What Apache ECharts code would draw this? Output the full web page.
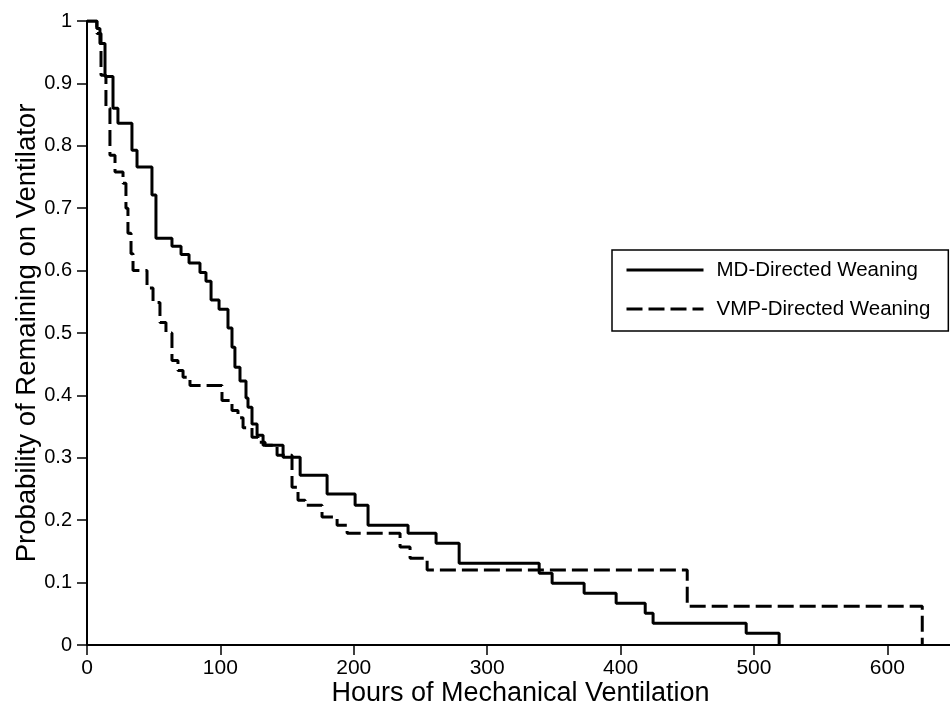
<!DOCTYPE html>
<html>
<head>
<meta charset="utf-8">
<script src="https://cdn.jsdelivr.net/npm/echarts@6/dist/echarts.min.js"></script>
<style>
  html, body { margin: 0; padding: 0; background: #fff; overflow: hidden; }
  #chart { width: 950px; height: 705px; }
</style>
</head>
<body>
<div id="chart"></div>
<script>
// Kaplan-Meier curves (hours, probability after each drop)
const mdHours = [0, 7.3, 9.7, 13.5, 19.5, 23.2, 33.7, 37.5, 48.7, 51.7, 63.7, 70.5, 76.5, 84.7, 89.2, 93.0, 99.0, 105.7, 108.7, 110.9, 114.7, 119.2, 120.7, 123.7, 127.5, 132.0, 147.0, 159.8, 180.0, 201.0, 210.7, 240.7, 261.7, 279.0, 339.0, 348.7, 372.7, 396.7, 418.5, 424.4, 494.2, 518.9];
const mdSurvival = [1, 0.988, 0.964, 0.911, 0.860, 0.836, 0.793, 0.766, 0.721, 0.652, 0.639, 0.626, 0.612, 0.597, 0.583, 0.553, 0.538, 0.508, 0.477, 0.445, 0.423, 0.396, 0.381, 0.354, 0.336, 0.320, 0.301, 0.272, 0.242, 0.224, 0.192, 0.179, 0.163, 0.131, 0.115, 0.099, 0.083, 0.067, 0.051, 0.035, 0.019, 0];

const vmpHours = [0, 7.5, 10.5, 14.2, 17.2, 21.0, 27.0, 29.2, 30.7, 33.0, 34.5, 45.0, 49.5, 54.7, 59.2, 63.7, 68.2, 72.0, 77.2, 101.2, 108.7, 113.2, 117.0, 123.7, 128.2, 133.5, 142.5, 153.7, 158.2, 163.5, 176.2, 187.5, 195.0, 234.7, 242.2, 255.0, 450.0, 626.2];
const vmpSurvival = [1, 0.98, 0.913, 0.86, 0.785, 0.758, 0.74, 0.70, 0.66, 0.627, 0.60, 0.572, 0.549, 0.517, 0.50, 0.456, 0.44, 0.429, 0.416, 0.392, 0.376, 0.364, 0.348, 0.333, 0.325, 0.32, 0.304, 0.253, 0.232, 0.224, 0.205, 0.192, 0.179, 0.157, 0.139, 0.12, 0.062, 0];

const xTickValues = [0, 100, 200, 300, 400, 500, 600];
const seriesNames = ['MD-Directed Weaning', 'VMP-Directed Weaning'];
const xAxisTitle = 'Hours of Mechanical Ventilation';
const yAxisTitle = 'Probability of Remaining on Ventilator';

const FONT = 'Liberation Sans, Arial, Helvetica, sans-serif';

const pair = (xs, ys) => xs.map((x, i) => [x, ys[i]]);

const chart = echarts.init(document.getElementById('chart'), null, { renderer: 'canvas' });
chart.setOption({
  animation: false,
  backgroundColor: '#ffffff',
  textStyle: { fontFamily: FONT, color: '#000' },
  grid: { left: 87, right: -4, top: 21, bottom: 60, containLabel: false, outerBoundsMode: 'none' },
  legend: {
    data: seriesNames,
    orient: 'vertical',
    left: 612,
    top: 250,
    padding: [9, 18, 11, 13],
    itemGap: 17,
    itemWidth: 77,
    itemHeight: 22,
    borderColor: '#000',
    borderWidth: 1.5,
    borderRadius: 0,
    backgroundColor: '#fff',
    itemStyle: { opacity: 0 },
    lineStyle: { width: 3 },
    textStyle: { fontFamily: FONT, fontSize: 20.5, lineHeight: 22, color: '#000', padding: [0, 0, 0, 8] }
  },
  xAxis: {
    type: 'value',
    min: 0,
    max: 650,
    interval: 100,
    name: xAxisTitle,
    nameLocation: 'middle',
    nameGap: 35,
    nameMoveOverlap: false,
    nameTextStyle: { fontFamily: FONT, fontSize: 27, color: '#000' },
    axisLine: { show: true, onZero: false, lineStyle: { color: '#000', width: 2 } },
    axisTick: { show: true, inside: false, length: 10, customValues: xTickValues, lineStyle: { color: '#000', width: 1.5 } },
    axisLabel: { fontFamily: FONT, fontSize: 21, color: '#000', margin: 13, customValues: xTickValues },
    splitLine: { show: false }
  },
  yAxis: {
    type: 'value',
    min: 0,
    max: 1,
    interval: 0.1,
    name: yAxisTitle,
    nameLocation: 'middle',
    nameGap: 46,
    nameMoveOverlap: false,
    nameTextStyle: { fontFamily: FONT, fontSize: 27.5, color: '#000' },
    axisLine: { show: true, onZero: false, lineStyle: { color: '#000', width: 2 } },
    axisTick: { show: true, inside: false, length: 10, lineStyle: { color: '#000', width: 1.5 } },
    axisLabel: { fontFamily: FONT, fontSize: 20, color: '#000', margin: 15 },
    splitLine: { show: false }
  },
  series: [
    {
      name: seriesNames[0],
      type: 'line',
      step: 'end',
      symbol: 'none',
      data: pair(mdHours, mdSurvival),
      itemStyle: { color: '#000' },
      lineStyle: { color: '#000', width: 3, type: 'solid' }
    },
    {
      name: seriesNames[1],
      type: 'line',
      step: 'end',
      symbol: 'none',
      data: pair(vmpHours, vmpSurvival),
      itemStyle: { color: '#000' },
      lineStyle: { color: '#000', width: 3, type: [16, 6] }
    }
  ]
});
</script>
</body>
</html>
